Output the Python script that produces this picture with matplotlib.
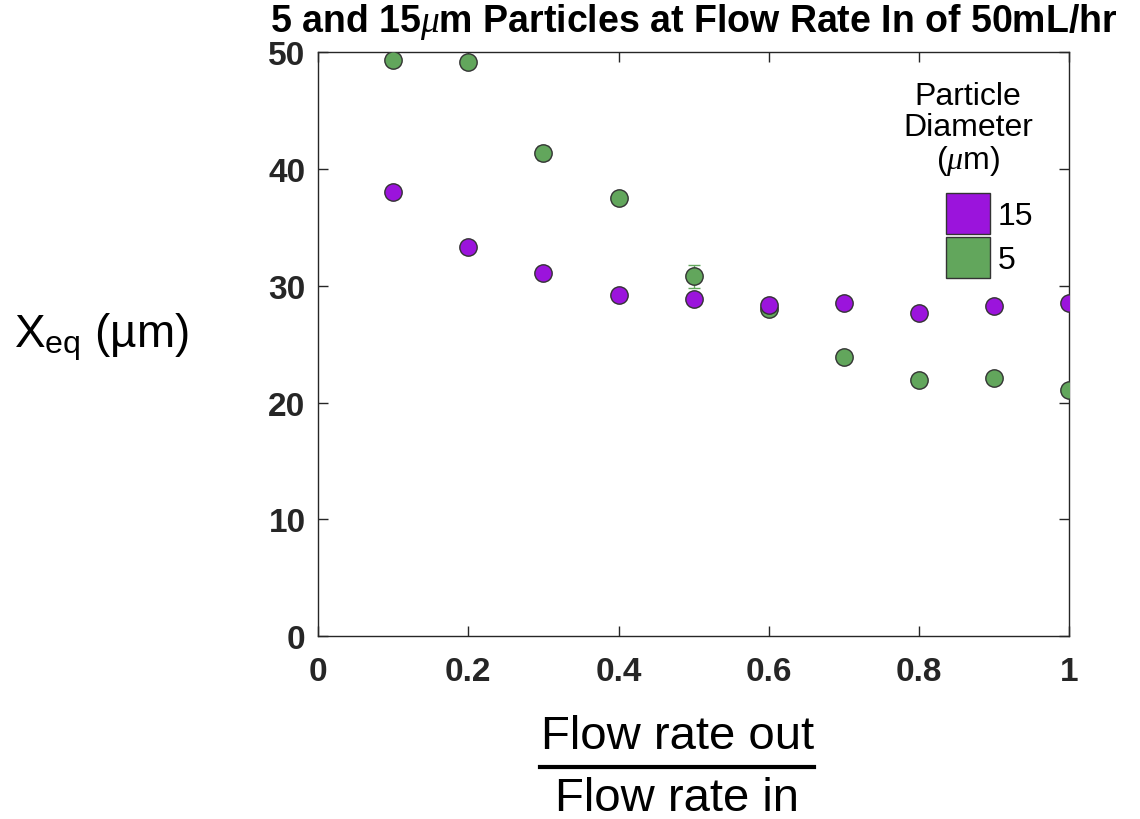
import matplotlib
matplotlib.use("Agg")
from matplotlib import pyplot as plt
from matplotlib.patches import Patch
from matplotlib.lines import Line2D
import numpy as np

plt.rcParams['font.family'] = ['Liberation Sans', 'DejaVu Sans']
plt.rcParams['mathtext.fontset'] = 'custom'
plt.rcParams['mathtext.rm'] = 'Liberation Sans'
plt.rcParams['mathtext.it'] = 'Liberation Serif:italic'

# Data
flow_ratio = [0.1, 0.2, 0.3, 0.4, 0.5, 0.6, 0.7, 0.8, 0.9, 1.0]
xeq_15um = [38.0, 33.3, 31.1, 29.2, 28.9, 28.4, 28.5, 27.7, 28.3, 28.5]
err_15um = [0.1, 0.1, 0.1, 0.1, 0.1, 0.1, 0.1, 0.1, 0.1, 0.1]
xeq_5um = [49.3, 49.2, 41.4, 37.5, 30.8, 28.0, 23.9, 21.9, 22.1, 21.1]
err_5um = [0.1, 0.1, 0.6, 0.1, 1.0, 0.1, 0.1, 0.1, 0.1, 0.1]
sizes = ['15', '5']

purple = '#9b14dc'
green = '#62a65c'
dark = '#262626'

fig = plt.figure(figsize=(11.4, 8.2), dpi=100)
ax = fig.add_axes([0.279, 0.223, 0.659, 0.712])

ax.errorbar(flow_ratio, xeq_5um, yerr=err_5um, fmt='o', color=green, ecolor=green,
            markerfacecolor=green, markeredgecolor='#333333', markersize=12.5,
            markeredgewidth=1, capsize=4, elinewidth=1, zorder=3)
ax.errorbar(flow_ratio, xeq_15um, yerr=err_15um, fmt='o', color=purple, ecolor=purple,
            markerfacecolor=purple, markeredgecolor='#333333', markersize=12.5,
            markeredgewidth=1, capsize=4, elinewidth=1, zorder=4)

ax.set_xlim(0, 1)
ax.set_ylim(0, 50)
ax.set_xticks([0, 0.2, 0.4, 0.6, 0.8, 1])
ax.set_xticklabels(['0', '0.2', '0.4', '0.6', '0.8', '1'])
ax.set_yticks([0, 10, 20, 30, 40, 50])
ax.tick_params(direction='in', top=True, right=True, length=7, width=1, colors=dark,
               labelsize=24)
ax.tick_params(axis='x', pad=14)
ax.tick_params(axis='y', pad=9)
for lab in ax.get_xticklabels() + ax.get_yticklabels():
    lab.set_fontweight('bold')
for s in ax.spines.values():
    s.set_color(dark)
    s.set_linewidth(1)

ax.set_title(r'5 and 15$\mu$m Particles at Flow Rate In of 50mL/hr',
             fontsize=27, fontweight='bold', pad=15)

# y label, horizontal
fig.text(0.012, 0.588, r'X$_{\mathrm{eq}}$ (µm)', fontsize=33, ha='left', va='center')

# x label as a fraction
fig.text(0.594, 0.101, 'Flow rate out', fontsize=34, ha='center', va='center')
fig.add_artist(Line2D([0.474, 0.714], [0.063, 0.063], color='black', lw=3,
                      transform=fig.transFigure))
fig.text(0.594, 0.025, 'Flow rate in', fontsize=34, ha='center', va='center')

handles = [Patch(facecolor=purple, edgecolor='#333333'),
           Patch(facecolor=green, edgecolor='#333333')]
leg = ax.legend(handles, sizes, title='Particle\nDiameter\n' + r'($\mu$m)',
                loc='upper right', bbox_to_anchor=(0.99, 1.0), frameon=False,
                fontsize=23, title_fontsize=23, handlelength=1.35, handleheight=1.6,
                handletextpad=0.25, labelspacing=0.1)
leg._legend_box.align = 'right'
leg._legend_box.sep = 11
leg.get_title().set_multialignment('center')
leg.get_title().set_linespacing(1.05)

fig.savefig('out.png', dpi=100)
